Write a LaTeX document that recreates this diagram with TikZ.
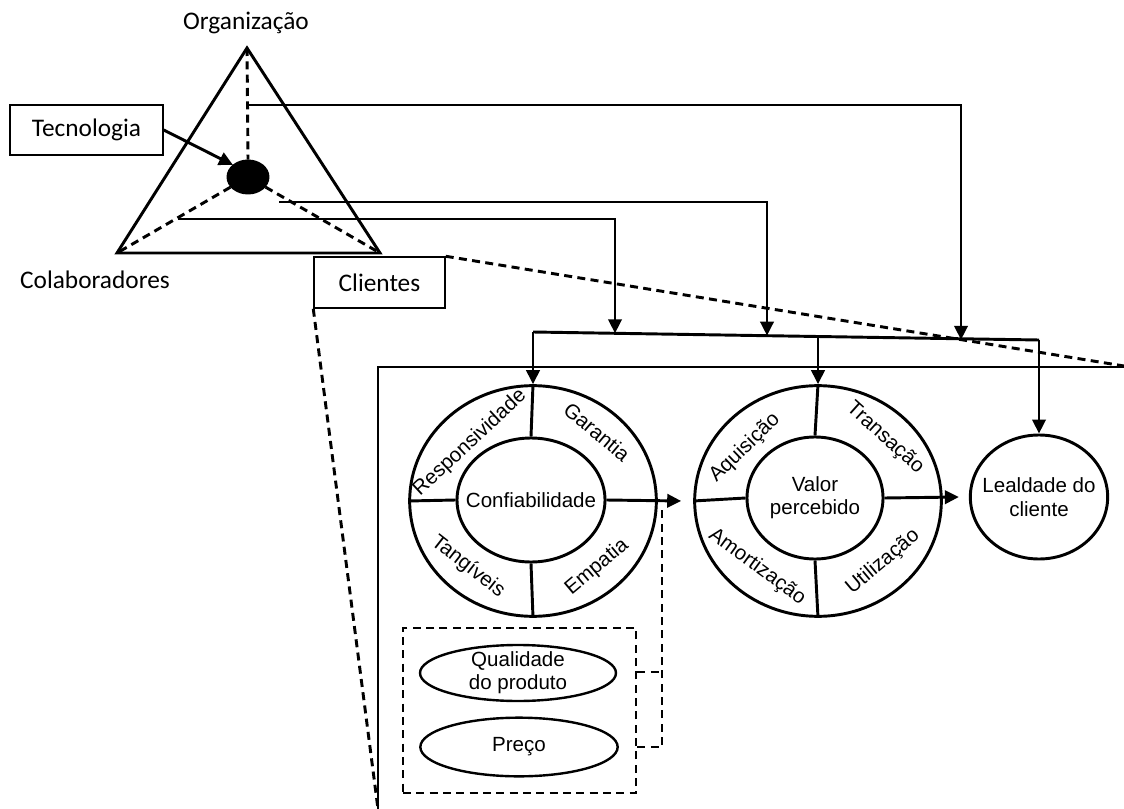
\documentclass[tikz,border=0pt]{standalone}
\usepackage{fontspec}
\setmainfont{Liberation Sans}
\newfontfamily\calibfont{Carlito}
\usetikzlibrary{shapes.geometric,arrows.meta}
\begin{document}
\begin{tikzpicture}[x=0.75pt,y=-0.75pt,line width=2.2pt,
  arr/.style={-{Triangle[length=10.5pt,width=10pt]}},
  dsh/.style={dash pattern=on 6pt off 4pt},
  ringtxt/.style={font=\fontsize{15.4}{17.5}\selectfont,inner sep=0pt,align=center},
  cal/.style={font=\calibfont\fontsize{19}{22}\selectfont,inner sep=0pt},
  outerring/.style={draw,ellipse,inner sep=0pt,minimum width=185pt,minimum height=173pt},
  labelbox/.style={draw,line width=1.1pt,rectangle,inner sep=0pt}]
\useasboundingbox (0,0) rectangle (1124,809);

% --- triangle: organisation, staff, customers ---
\coordinate (apex) at (247,48);
\coordinate (bl) at (117,253);
\coordinate (br) at (380,253);
\draw[line join=miter] (apex) -- (bl) -- (br) -- cycle;
\node[draw,fill=black,ellipse,inner sep=0pt,minimum width=30pt,minimum height=24pt] (dot) at (248,177) {};
\draw[dsh] (apex) -- (dot.north);
\draw[dsh] (dot) -- (bl);
\draw[dsh] (dot) -- (br);

\node[cal] (org) at (246,23) {Organização};
\node[cal] (colab) at (95,280) {Colaboradores};
\node[labelbox,minimum width=114.75pt,minimum height=37.5pt] (tec) at (86.5,130) {};
\node[cal] (tectxt) at (tec) {Tecnologia};
\node[labelbox,minimum width=98.25pt,minimum height=38.25pt] (cli) at (379.5,282.5) {};
\node[cal] (clitxt) at (cli) {Clientes};
\draw[arr] (tec.east) -- (233,165);

% --- zoom lines from the customers box ---
\draw[dsh] (cli.north east) -- (1124,366);
\draw[dsh] (cli.south west) -- (378,809);

% --- frame of the detail view ---
\draw (1124,367) -- (378,367) -- (378,809);

% --- service quality ring ---
\node[outerring] (confOut) at (533,501) {};
\node[draw,ellipse,inner sep=0pt,minimum width=111pt,minimum height=93pt] (confIn) at (531,500) {};
\node[ringtxt] (confTxt) at (confIn) {Confiabilidade};
\draw (confOut.north) -- (confIn.north);
\draw (confOut.south) -- (confIn.south);
\draw (confOut.west) -- (confIn.west);
\node[ringtxt,rotate=43] (resp) at (470,443) {Responsividade};
\node[ringtxt,rotate=-40] (gar) at (597,432) {Garantia};
\node[ringtxt,rotate=-38] (tang) at (468,567) {Tangíveis};
\node[ringtxt,rotate=40] (emp) at (597,567) {Empatia};

% --- perceived value ring ---
\node[outerring] (valOut) at (818,501) {};
\node[draw,ellipse,inner sep=0pt,minimum width=102pt,minimum height=91.5pt] (valIn) at (815,498) {};
\node[ringtxt] (valTxt) at (valIn) {Valor\\percebido};
\draw (valOut.north) -- (valIn.north);
\draw (valOut.south) -- (valIn.south);
\draw (valOut.west) -- (valIn.west);
\node[ringtxt,rotate=44] (aqu) at (745,448) {Aquisição};
\node[ringtxt,rotate=-42] (tra) at (885,438) {Transação};
\node[ringtxt,rotate=-36] (amo) at (757,567) {Amortização};
\node[ringtxt,rotate=40] (uti) at (883,562) {Utilização};

% --- loyalty ---
\node[draw,ellipse,inner sep=0pt,minimum width=103pt,minimum height=93pt] (leal) at (1039,497) {};
\node[ringtxt] (lealTxt) at (leal) {Lealdade do\\cliente};

\draw[arr] (confIn.east) -- ([xshift=-9pt]valOut.west);
\draw[arr] (valIn.east) -- ([xshift=-7.5pt]leal.west);

% --- product quality and price ---
\node[draw,dsh,inner sep=0pt,minimum width=174.75pt,minimum height=123.75pt] (prod) at (519.5,710.5) {};
\node[draw,line width=1.8pt,ellipse,inner sep=0pt,minimum width=147pt,minimum height=42pt] (qual) at (518,673) {};
\node[ringtxt] (qualTxt) at (qual) {Qualidade\\do produto};
\node[draw,line width=1.8pt,ellipse,inner sep=0pt,minimum width=148pt,minimum height=44pt] (preco) at (519,747) {};
\node[ringtxt] (precoTxt) at (preco) {Preço};
\coordinate (brk) at (662,510);
\draw[dsh] (prod.east |- 0,672) -- (brk |- 0,672);
\draw[dsh] (prod.east |- 0,747) -- (brk |- 0,747) -- (brk);

% --- collector line and drops ---
\coordinate (cA) at (533,332);
\coordinate (cB) at (818,336.5);
\coordinate (cC) at (1039,340);
\draw (cA) -- (cC);
\draw[arr] (cA) -- (confOut.north);
\draw[arr] (cB) -- (valOut.north);
\draw[arr] (cC) -- (leal.north);

% --- links from the triangle to the collector ---
\coordinate (s1) at (247,105);
\coordinate (s2) at (279,202);
\coordinate (s3) at (178,219);
\draw[arr] (s1) -- (961,105) -- (961,339.8);
\draw[arr] (s2) -- (767,202) -- (767,335.6);
\draw[arr] (s3) -- (615,219) -- (615,333.3);
\end{tikzpicture}
\end{document}
